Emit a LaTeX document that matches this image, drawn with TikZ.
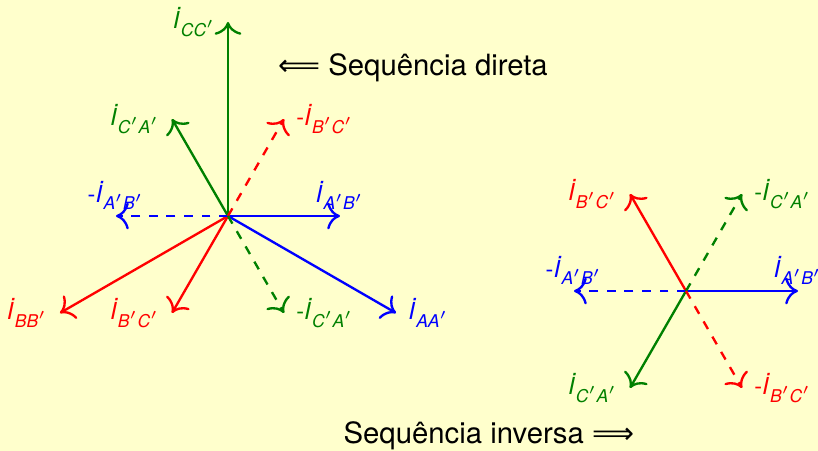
\documentclass[tikz,border=0pt]{standalone}
\usepackage{amsmath}
\usepackage{fontspec}
\setmainfont{TeX Gyre Heros}
\newfontfamily\setas{DejaVu Sans}
\usetikzlibrary{arrows.meta,positioning}

\definecolor{fundo}{RGB}{255,255,204}
\definecolor{verde}{RGB}{0,128,0}
\newcommand{\Ifas}[1]{\textit{İ}\textsubscript{\itshape #1}}

\begin{document}
\begin{tikzpicture}[
    every node/.style={inner sep=2pt},
    >={To[scale=1.3]},
    fasor/.style={->,thick},
    oposto/.style={->,thick,dashed},
    rot/.style={font=\footnotesize}
]

\useasboundingbox (-2.736,-2.82) rectangle (7.08,2.592);
\fill[fundo] (-2.736,-2.82) rectangle (7.08,2.592);


% Sequencia direta
\coordinate (od) at (0,0);
\coordinate (dCC) at (90:2.328);
\coordinate (dBB) at (210:2.328);
\coordinate (dAA) at (-30:2.328);
\coordinate (dAB) at (0:1.344);
\coordinate (dCA) at (120:1.344);
\coordinate (dBC) at (240:1.344);
\coordinate (dmAB) at (180:1.344);
\coordinate (dmBC) at (60:1.344);
\coordinate (dmCA) at (300:1.344);

\draw[fasor,verde] (od) -- (dCC);
\draw[fasor,red] (od) -- (dBB);
\draw[fasor,blue] (od) -- (dAA);
\draw[fasor,blue] (od) -- (dAB);
\draw[fasor,verde] (od) -- (dCA);
\draw[fasor,red] (od) -- (dBC);
\draw[oposto,blue] (od) -- (dmAB);
\draw[oposto,red] (od) -- (dmBC);
\draw[oposto,verde] (od) -- (dmCA);

\node[rot,text=verde,left=2pt of dCC] (lCC) {\Ifas{CC$'$}};
\node[rot,text=red,left=2pt of dBB] (lBB) {\Ifas{BB$'$}};
\node[rot,text=blue,right=2pt of dAA] (lAA) {\Ifas{AA$'$}};
\node[rot,text=blue,above=0pt of dAB] (lAB) {\Ifas{A$'$B$'$}};
\node[rot,text=verde,left=2pt of dCA] (lCA) {\Ifas{C$'$A$'$}};
\node[rot,text=red,left=2pt of dBC] (lBC) {\Ifas{B$'$C$'$}};
\node[rot,text=blue,above=0pt of dmAB] (lmAB) {-\Ifas{A$'$B$'$}};
\node[rot,text=red,right=2pt of dmBC] (lmBC) {-\Ifas{B$'$C$'$}};
\node[rot,text=verde,right=2pt of dmCA] (lmCA) {-\Ifas{C$'$A$'$}};

\node (tdir) at (2.22,1.776) {{\setas ⟸} Sequência direta};


% Sequencia inversa
\begin{scope}[shift={(5.496,-0.9)}]
\coordinate (oi) at (0,0);
\coordinate (iAB) at (0:1.344);
\coordinate (iBC) at (120:1.344);
\coordinate (iCA) at (240:1.344);
\coordinate (imAB) at (180:1.344);
\coordinate (imCA) at (60:1.344);
\coordinate (imBC) at (300:1.344);

\draw[fasor,blue] (oi) -- (iAB);
\draw[fasor,red] (oi) -- (iBC);
\draw[fasor,verde] (oi) -- (iCA);
\draw[oposto,blue] (oi) -- (imAB);
\draw[oposto,verde] (oi) -- (imCA);
\draw[oposto,red] (oi) -- (imBC);

\node[rot,text=blue,above=0pt of iAB] (liAB) {\Ifas{A$'$B$'$}};
\node[rot,text=red,left=2pt of iBC] (liBC) {\Ifas{B$'$C$'$}};
\node[rot,text=verde,left=2pt of iCA] (liCA) {\Ifas{C$'$A$'$}};
\node[rot,text=blue,above=0pt of imAB] (limAB) {-\Ifas{A$'$B$'$}};
\node[rot,text=verde,right=2pt of imCA] (limCA) {-\Ifas{C$'$A$'$}};
\node[rot,text=red,right=2pt of imBC] (limBC) {-\Ifas{B$'$C$'$}};
\end{scope}

\node (tinv) at (3.13,-2.64) {Sequência inversa {\setas ⟹}};


\end{tikzpicture}
\end{document}
